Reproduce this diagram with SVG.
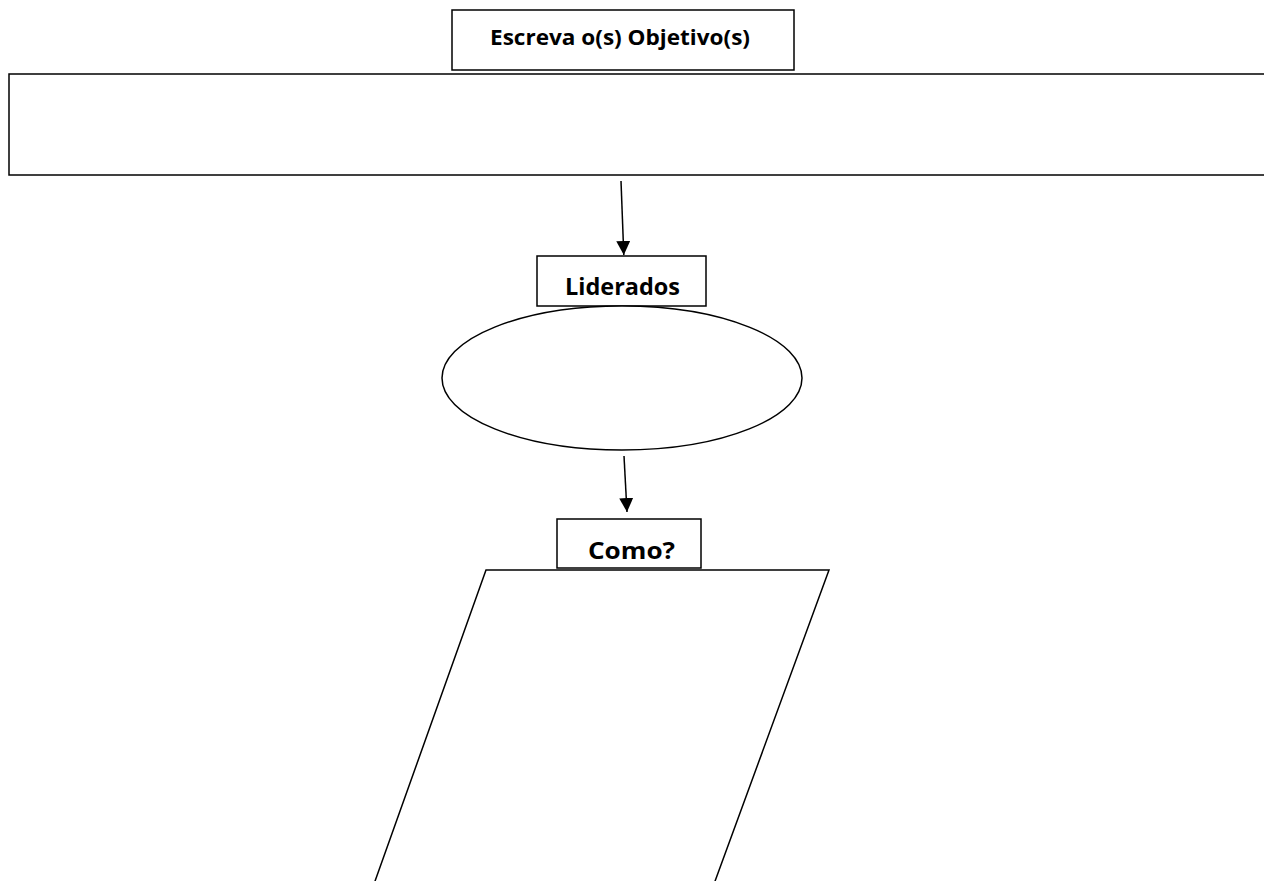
<svg xmlns="http://www.w3.org/2000/svg" width="1264" height="881" viewBox="0 0 1264 881">
<defs>
<marker id="arr" markerWidth="14" markerHeight="14" refX="14" refY="7" orient="auto" markerUnits="userSpaceOnUse" viewBox="0 0 14 14">
<path d="M0,0 L14,7 L0,14 z" fill="#000"/>
</marker>
<style>
.box{fill:#fff;stroke:#000;stroke-width:1.5}
.lbl{font-family:"Open Sans","Liberation Sans",sans-serif;font-weight:bold;fill:#000;text-anchor:middle}
.con{stroke:#000;stroke-width:1.5;fill:none}
</style>
</defs>
<rect width="1264" height="881" fill="#fff"/>
<g id="objetivo-title">
<rect class="box" x="452" y="10" width="342" height="60"/>
<text class="lbl" x="620" y="45" font-size="21" textLength="260" lengthAdjust="spacingAndGlyphs">Escreva o(s) Objetivo(s)</text>
</g>
<g id="objetivo-box">
<rect class="box" x="9" y="74" width="1270" height="101" stroke-width="2"/>
</g>
<g id="liderados-title">
<rect class="box" x="537" y="256" width="169" height="50"/>
<text class="lbl" x="622.5" y="295" font-size="24" textLength="115" lengthAdjust="spacingAndGlyphs">Liderados</text>
</g>
<g id="liderados-ellipse">
<ellipse class="box" cx="622" cy="378" rx="180" ry="72"/>
</g>
<g id="como-title">
<rect class="box" x="557" y="519" width="144" height="49"/>
<text class="lbl" x="631.5" y="559" font-size="24" textLength="87" lengthAdjust="spacingAndGlyphs">Como?</text>
</g>
<g id="como-box">
<path class="box" d="M374,884 L486,570 L829,570 L714,884"/>
</g>
<g id="connectors">
<line class="con" x1="621" y1="181" x2="623.8" y2="255" marker-end="url(#arr)"/>
<line class="con" x1="624" y1="456" x2="627" y2="512" marker-end="url(#arr)"/>
</g>
</svg>
